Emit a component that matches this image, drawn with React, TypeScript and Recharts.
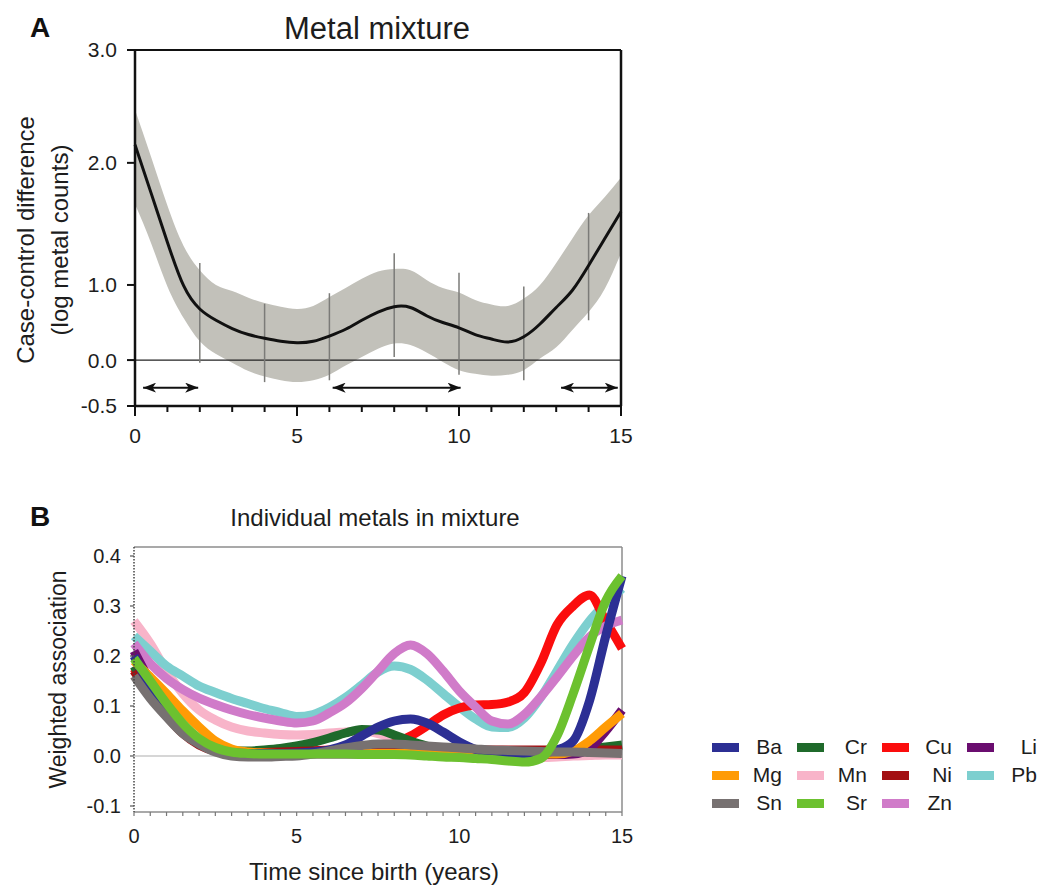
import {
  ComposedChart,
  LineChart,
  Line,
  Area,
  XAxis,
  YAxis,
  ReferenceLine,
  Legend,
} from 'recharts'

// ---------- panel A: metal mixture ----------
const YEARS = [
  0, 0.5, 1, 1.5, 2, 2.5, 3, 3.5, 4, 4.5, 5, 5.5, 6, 6.5, 7, 7.5, 8, 8.5, 9, 9.5, 10, 10.5, 11, 11.5,
  12, 12.5, 13, 13.5, 14, 14.5, 15,
]
const MIX_MEAN = [
  2.16, 1.75, 1.35, 0.99, 0.68, 0.53, 0.42, 0.34, 0.29, 0.25, 0.23, 0.25, 0.32, 0.41, 0.53, 0.64, 0.71,
  0.7, 0.59, 0.5, 0.43, 0.34, 0.28, 0.24, 0.31, 0.48, 0.7, 0.93, 1.16, 1.38, 1.6,
]
const MIX_UPPER = [
  2.47, 2.05, 1.65, 1.32, 1.12, 1.0, 0.92, 0.83, 0.76, 0.71, 0.68, 0.72, 0.84, 0.96, 1.05, 1.11, 1.13,
  1.12, 1.04, 0.96, 0.9, 0.8, 0.74, 0.72, 0.82, 1.0, 1.18, 1.38, 1.57, 1.72, 1.88,
]
const MIX_LOWER = [
  1.66, 1.34, 0.98, 0.56, 0.25, 0.08, -0.03, -0.12, -0.18, -0.22, -0.24, -0.22, -0.16, -0.06, 0.04,
  0.15, 0.22, 0.2, 0.1, -0.02, -0.11, -0.15, -0.17, -0.16, -0.11, 0.02, 0.17, 0.4, 0.64, 0.95, 1.26,
]
const CI_YEARS = [0, 2, 4, 6, 8, 10, 12, 14]
const CI_LOW = [1.68, -0.03, -0.24, -0.22, 0.04, -0.16, -0.22, 0.53]
const CI_HIGH = [2.65, 1.18, 0.75, 0.89, 1.26, 1.1, 0.98, 1.59]
const WINDOW_FROM = [0.25, 6.1, 13.15]
const WINDOW_TO = [1.95, 10.05, 14.9]
const WINDOW_Y = -0.3
const Y_TICKS_A = [-0.5, 0, 1, 2, 3]
const X_TICKS_A = [0, 1, 2, 3, 4, 5, 6, 7, 8, 9, 10, 11, 12, 13, 14, 15]

// ---------- panel B: individual metals ----------
const METAL_NAMES = ['Ba', 'Cr', 'Cu', 'Li', 'Mg', 'Mn', 'Ni', 'Pb', 'Sn', 'Sr', 'Zn']
const BA = [
  0.2, 0.14, 0.09, 0.05, 0.025, 0.012, 0.006, 0.005, 0.005, 0.005, 0.006, 0.008, 0.012, 0.022, 0.04,
  0.058, 0.07, 0.074, 0.066, 0.048, 0.028, 0.013, 0.006, 0.004, 0.004, 0.006, 0.012, 0.03, 0.11, 0.24,
  0.36,
]
const CR = [
  0.18, 0.13, 0.088, 0.05, 0.027, 0.014, 0.01, 0.01, 0.012, 0.015, 0.02, 0.027, 0.036, 0.046, 0.053,
  0.052, 0.042, 0.03, 0.02, 0.014, 0.01, 0.008, 0.008, 0.008, 0.009, 0.01, 0.011, 0.012, 0.014, 0.018,
  0.022,
]
const CU = [
  0.175, 0.13, 0.09, 0.055, 0.03, 0.015, 0.01, 0.008, 0.008, 0.008, 0.008, 0.01, 0.012, 0.012, 0.012,
  0.015, 0.025, 0.04, 0.06, 0.082, 0.096, 0.102, 0.103, 0.108, 0.127, 0.185, 0.262, 0.3, 0.322,
  0.27, 0.215,
]
const LI = [
  0.21, 0.15, 0.1, 0.06, 0.032, 0.015, 0.007, 0.005, 0.004, 0.004, 0.004, 0.004, 0.004, 0.004, 0.004,
  0.004, 0.004, 0.004, 0.003, 0.003, 0.003, 0.003, 0.003, 0.003, 0.003, 0.003, 0.003, 0.004, 0.015,
  0.05, 0.092,
]
const MG = [
  0.19, 0.158, 0.125, 0.09, 0.058, 0.03, 0.014, 0.008, 0.006, 0.005, 0.005, 0.005, 0.005, 0.005, 0.005,
  0.005, 0.005, 0.005, 0.005, 0.005, 0.005, 0.005, 0.004, 0.004, 0.004, 0.004, 0.004, 0.01, 0.03,
  0.058, 0.085,
]
const MN = [
  0.27, 0.225, 0.17, 0.125, 0.092, 0.072, 0.058, 0.05, 0.046, 0.043, 0.042, 0.043, 0.046, 0.048, 0.05,
  0.045, 0.035, 0.022, 0.012, 0.006, 0.003, 0.002, 0.001, 0.0, -0.002, -0.003, -0.002, 0.0, 0.001,
  0.002, 0.002,
]
const NI = [
  0.17, 0.12, 0.08, 0.045, 0.022, 0.01, 0.006, 0.006, 0.007, 0.008, 0.009, 0.01, 0.011, 0.012, 0.014,
  0.015, 0.014, 0.013, 0.012, 0.012, 0.012, 0.012, 0.012, 0.012, 0.012, 0.012, 0.012, 0.012, 0.012,
  0.012, 0.012,
]
const PB = [
  0.24, 0.21, 0.18, 0.16, 0.14, 0.127, 0.115, 0.105, 0.095, 0.087, 0.079, 0.083, 0.097, 0.117, 0.142,
  0.168, 0.18, 0.173, 0.152, 0.125, 0.098, 0.074, 0.058, 0.057, 0.076, 0.117, 0.17, 0.224, 0.27, 0.305,
  0.335,
]
const SN = [
  0.16, 0.115, 0.078, 0.045, 0.024, 0.008, 0.0, -0.002, -0.002, -0.001, 0.0, 0.004, 0.01, 0.016, 0.021,
  0.024, 0.024, 0.022, 0.02, 0.018, 0.016, 0.014, 0.012, 0.011, 0.01, 0.009, 0.008, 0.008, 0.007,
  0.006, 0.005,
]
const SR = [
  0.195, 0.15, 0.105, 0.065, 0.035, 0.017, 0.008, 0.005, 0.004, 0.004, 0.004, 0.004, 0.004, 0.004,
  0.003, 0.003, 0.003, 0.002, 0.0, -0.002, -0.003, -0.005, -0.007, -0.01, -0.012, -0.005, 0.04, 0.125,
  0.22, 0.31, 0.36,
]
const ZN = [
  0.225, 0.185, 0.155, 0.133, 0.116, 0.103, 0.092, 0.083, 0.076, 0.07, 0.066, 0.07, 0.086, 0.106,
  0.135, 0.17, 0.205, 0.222, 0.205, 0.17, 0.13, 0.098, 0.07, 0.064, 0.083, 0.118, 0.158, 0.2, 0.238,
  0.26, 0.272,
]
const Y_TICKS_B = [-0.1, 0, 0.1, 0.2, 0.3, 0.4]
const Y_DOMAIN_B = [-0.112, 0.418]

// drawing order (bottom to top); legend is sorted back into METAL_NAMES order
const METALS = [
  { key: 'Mn', color: '#f8b4c9', values: MN },
  { key: 'Pb', color: '#7dcfcf', values: PB },
  { key: 'Cu', color: '#fb0d0d', values: CU },
  { key: 'Zn', color: '#d07bc9', values: ZN },
  { key: 'Cr', color: '#1f6a2b', values: CR },
  { key: 'Ni', color: '#a30f12', values: NI },
  { key: 'Li', color: '#6a0d6f', values: LI },
  { key: 'Mg', color: '#ff9b05', values: MG },
  { key: 'Ba', color: '#2c2f94', values: BA },
  { key: 'Sn', color: '#777171', values: SN },
  { key: 'Sr', color: '#6cc12f', values: SR },
]

const mixRows = YEARS.map((t, i) => ({ t, mean: MIX_MEAN[i], lower: MIX_LOWER[i], upper: MIX_UPPER[i] }))
const metalRows = YEARS.map((t, i) => {
  const row: Record<string, number> = { t }
  METALS.forEach((m) => (row[m.key] = m.values[i]))
  return row
})

// the published y axis of panel A is not evenly spaced, so map it piece by piece
const AXIS_A_SHARE = [0, 0.129, 0.34, 0.683, 1]

function segmentedScale(stops: number[], share: number[]): any {
  let dom = [stops[0], stops[stops.length - 1]]
  let rng = [0, 1]
  const scale: any = (v: number) => {
    let i = 0
    while (i < stops.length - 2 && v > stops[i + 1]) i++
    const f = share[i] + ((v - stops[i]) / (stops[i + 1] - stops[i])) * (share[i + 1] - share[i])
    return rng[0] + f * (rng[1] - rng[0])
  }
  scale.domain = (d?: number[]) => {
    if (!d) return dom
    dom = [...d]
    return scale
  }
  scale.range = (r?: number[]) => {
    if (!r) return rng
    rng = [...r]
    return scale
  }
  scale.copy = () => segmentedScale(stops, share).domain(dom).range(rng)
  scale.ticks = () => stops
  return scale
}

const mixScale = segmentedScale(Y_TICKS_A, AXIS_A_SHARE)

const FONT = '"Liberation Sans", Arial, Helvetica, sans-serif'
const INK = '#1d1d1d'

function YearTickA(props: any) {
  const { x, y, payload } = props
  const major = payload.value % 5 === 0
  return (
    <g>
      <line x1={x} x2={x} y1={y} y2={y + (major ? 10 : 6)} stroke="#111" strokeWidth={2} />
      {major && (
        <text x={x} y={y + 37} textAnchor="middle" fontSize={21} fill={INK}>
          {payload.value}
        </text>
      )}
    </g>
  )
}

function YearTickB(props: any) {
  const { x, y, payload } = props
  const major = payload.value % 5 === 0
  return (
    <g>
      <line x1={x} x2={x} y1={y} y2={y + 4} stroke="#777" strokeWidth={1.2} />
      {major && (
        <text x={x} y={y + 31} textAnchor="middle" fontSize={20} fill={INK}>
          {payload.value}
        </text>
      )}
    </g>
  )
}

function MetalLegend(props: any) {
  const items = [...(props.payload ?? [])].sort(
    (a: any, b: any) => METAL_NAMES.indexOf(a.value) - METAL_NAMES.indexOf(b.value),
  )
  return (
    <div style={{ display: 'grid', gridTemplateColumns: 'repeat(4, 85px)', fontFamily: FONT }}>
      {items.map((it: any) => (
        <div key={it.value} style={{ display: 'flex', alignItems: 'center', height: 28 }}>
          <span style={{ width: 27, height: 9, background: it.color, display: 'inline-block' }} />
          <span style={{ width: 43, textAlign: 'right', fontSize: 21, color: INK, lineHeight: '28px' }}>
            {it.value}
          </span>
        </div>
      ))}
    </div>
  )
}

function MixtureChart() {
  return (
    <ComposedChart
      width={660}
      height={460}
      data={mixRows}
      margin={{ top: 50, right: 39, bottom: 4, left: 0 }}
    >
      <defs>
        <marker
          id="windowHead"
          viewBox="0 0 13 10"
          refX={13}
          refY={5}
          markerWidth={13}
          markerHeight={10}
          markerUnits="userSpaceOnUse"
          orient="auto-start-reverse"
        >
          <path d="M0,0 L13,5 L0,10 L3.5,5 Z" fill="#111" />
        </marker>
      </defs>
      <XAxis
        type="number"
        dataKey="t"
        domain={[0, 15]}
        ticks={X_TICKS_A}
        interval={0}
        tickSize={0}
        tickMargin={0}
        tickLine={false}
        tick={(p: any) => <YearTickA {...p} />}
        axisLine={{ stroke: '#111', strokeWidth: 2.5 }}
        height={50}
      />
      <YAxis
        type="number"
        scale={mixScale}
        domain={[-0.5, 3]}
        ticks={Y_TICKS_A}
        interval={0}
        allowDataOverflow
        width={135}
        tickFormatter={(v: number) => v.toFixed(1)}
        tick={{ fontSize: 21, fill: INK }}
        tickSize={8}
        tickMargin={10}
        tickLine={{ stroke: '#111', strokeWidth: 2 }}
        axisLine={{ stroke: '#111', strokeWidth: 2.5 }}
        label={(p: any) => {
          const vb = p.viewBox ?? { x: 0 }
          return (
            <g fill={INK} fontSize={24}>
              <text transform={`translate(${vb.x + 34}, 240) rotate(-90)`} textAnchor="middle">
                Case-control difference
              </text>
              <text transform={`translate(${vb.x + 68}, 240) rotate(-90)`} textAnchor="middle">
                (log metal counts)
              </text>
            </g>
          )
        }}
      />
      <Area
        type="natural"
        dataKey={(d: any) => [d.lower, d.upper]}
        stroke="none"
        fill="#c2c1ba"
        fillOpacity={1}
        isAnimationActive={false}
      />
      <ReferenceLine y={0} stroke="#222" strokeWidth={1.3} />
      {CI_YEARS.map((x, i) => (
        <ReferenceLine
          key={`ci-${x}`}
          segment={[
            { x, y: CI_LOW[i] },
            { x, y: CI_HIGH[i] },
          ]}
          stroke="#7b7b78"
          strokeWidth={1.5}
        />
      ))}
      <Line
        type="natural"
        dataKey="mean"
        stroke="#111"
        strokeWidth={3}
        dot={false}
        isAnimationActive={false}
      />
      {WINDOW_FROM.map((from, i) => (
        <ReferenceLine
          key={`win-${from}`}
          segment={[
            { x: from, y: WINDOW_Y },
            { x: WINDOW_TO[i], y: WINDOW_Y },
          ]}
          shape={(p: any) => (
            <line
              x1={p.x1}
              y1={p.y1}
              x2={p.x2}
              y2={p.y2}
              stroke="#111"
              strokeWidth={2}
              markerStart="url(#windowHead)"
              markerEnd="url(#windowHead)"
            />
          )}
        />
      ))}
      <ReferenceLine y={3} stroke="#111" strokeWidth={2} />
      <ReferenceLine x={15} stroke="#111" strokeWidth={2.5} />
    </ComposedChart>
  )
}

function MetalsChart() {
  return (
    <LineChart
      width={1044}
      height={419}
      data={metalRows}
      margin={{ top: 77, right: 422, bottom: 7, left: 0 }}
    >
      <ReferenceLine y={0} stroke="#c9c9c9" strokeWidth={1.5} />
      <XAxis
        type="number"
        dataKey="t"
        domain={[0, 15]}
        ticks={YEARS}
        interval={0}
        tickSize={0}
        tickMargin={0}
        tickLine={false}
        tick={(p: any) => <YearTickB {...p} />}
        axisLine={{ stroke: '#8c8c8c', strokeWidth: 1.5 }}
        height={70}
        label={(p: any) => {
          const vb = p.viewBox ?? { x: 134, y: 342, width: 488 }
          return (
            <text x={vb.x + vb.width / 2 - 4} y={vb.y + 68} textAnchor="middle" fontSize={24} fill={INK}>
              Time since birth (years)
            </text>
          )
        }}
      />
      <YAxis
        type="number"
        domain={Y_DOMAIN_B}
        ticks={Y_TICKS_B}
        interval={0}
        allowDataOverflow
        width={134}
        tickFormatter={(v: number) => v.toFixed(1)}
        tick={{ fontSize: 20, fill: INK }}
        tickSize={4}
        tickMargin={9}
        tickLine={{ stroke: '#555', strokeWidth: 1.2 }}
        axisLine={{ stroke: '#444', strokeWidth: 1.5, strokeDasharray: '1.5 1.5' }}
        label={(p: any) => {
          const vb = p.viewBox ?? { x: 0, y: 77, height: 265 }
          return (
            <text
              transform={`translate(${vb.x + 66}, ${vb.y + vb.height / 2}) rotate(-90)`}
              textAnchor="middle"
              fontSize={23}
              fill={INK}
            >
              Weighted association
            </text>
          )
        }}
      />
      <ReferenceLine y={Y_DOMAIN_B[1]} stroke="#8c8c8c" strokeWidth={1.5} />
      <ReferenceLine x={15} stroke="#8c8c8c" strokeWidth={1.5} />
      {METALS.map((m) => (
        <Line
          key={m.key}
          name={m.key}
          type="monotone"
          dataKey={m.key}
          stroke={m.color}
          strokeWidth={9}
          strokeLinejoin="round"
          dot={false}
          isAnimationActive={false}
        />
      ))}
      <Legend
        layout="horizontal"
        verticalAlign="middle"
        align="center"
        content={(p: any) => <MetalLegend {...p} />}
        wrapperStyle={{ position: 'absolute', left: 712, top: 263, width: 340, height: 84 }}
      />
    </LineChart>
  )
}

export default function App() {
  return (
    <div
      style={{
        position: 'absolute',
        left: 0,
        top: 0,
        width: 1044,
        height: 889,
        background: '#fff',
        fontFamily: FONT,
        color: INK,
      }}
    >
      <div style={{ position: 'absolute', left: 0, top: 0 }}>
        <MixtureChart />
      </div>
      <div style={{ position: 'absolute', left: 0, top: 470 }}>
        <MetalsChart />
      </div>
      <svg
        width={1044}
        height={889}
        style={{ position: 'absolute', left: 0, top: 0, pointerEvents: 'none' }}
      >
        <text x={40} y={37} textAnchor="middle" fontSize={28} fontWeight="bold" fill="#111">
          A
        </text>
        <text x={377} y={39} textAnchor="middle" fontSize={31} fill={INK}>
          Metal mixture
        </text>
        <text x={40} y={526} textAnchor="middle" fontSize={28} fontWeight="bold" fill="#111">
          B
        </text>
        <text x={375} y={526} textAnchor="middle" fontSize={24} fill={INK}>
          Individual metals in mixture
        </text>
      </svg>
    </div>
  )
}
